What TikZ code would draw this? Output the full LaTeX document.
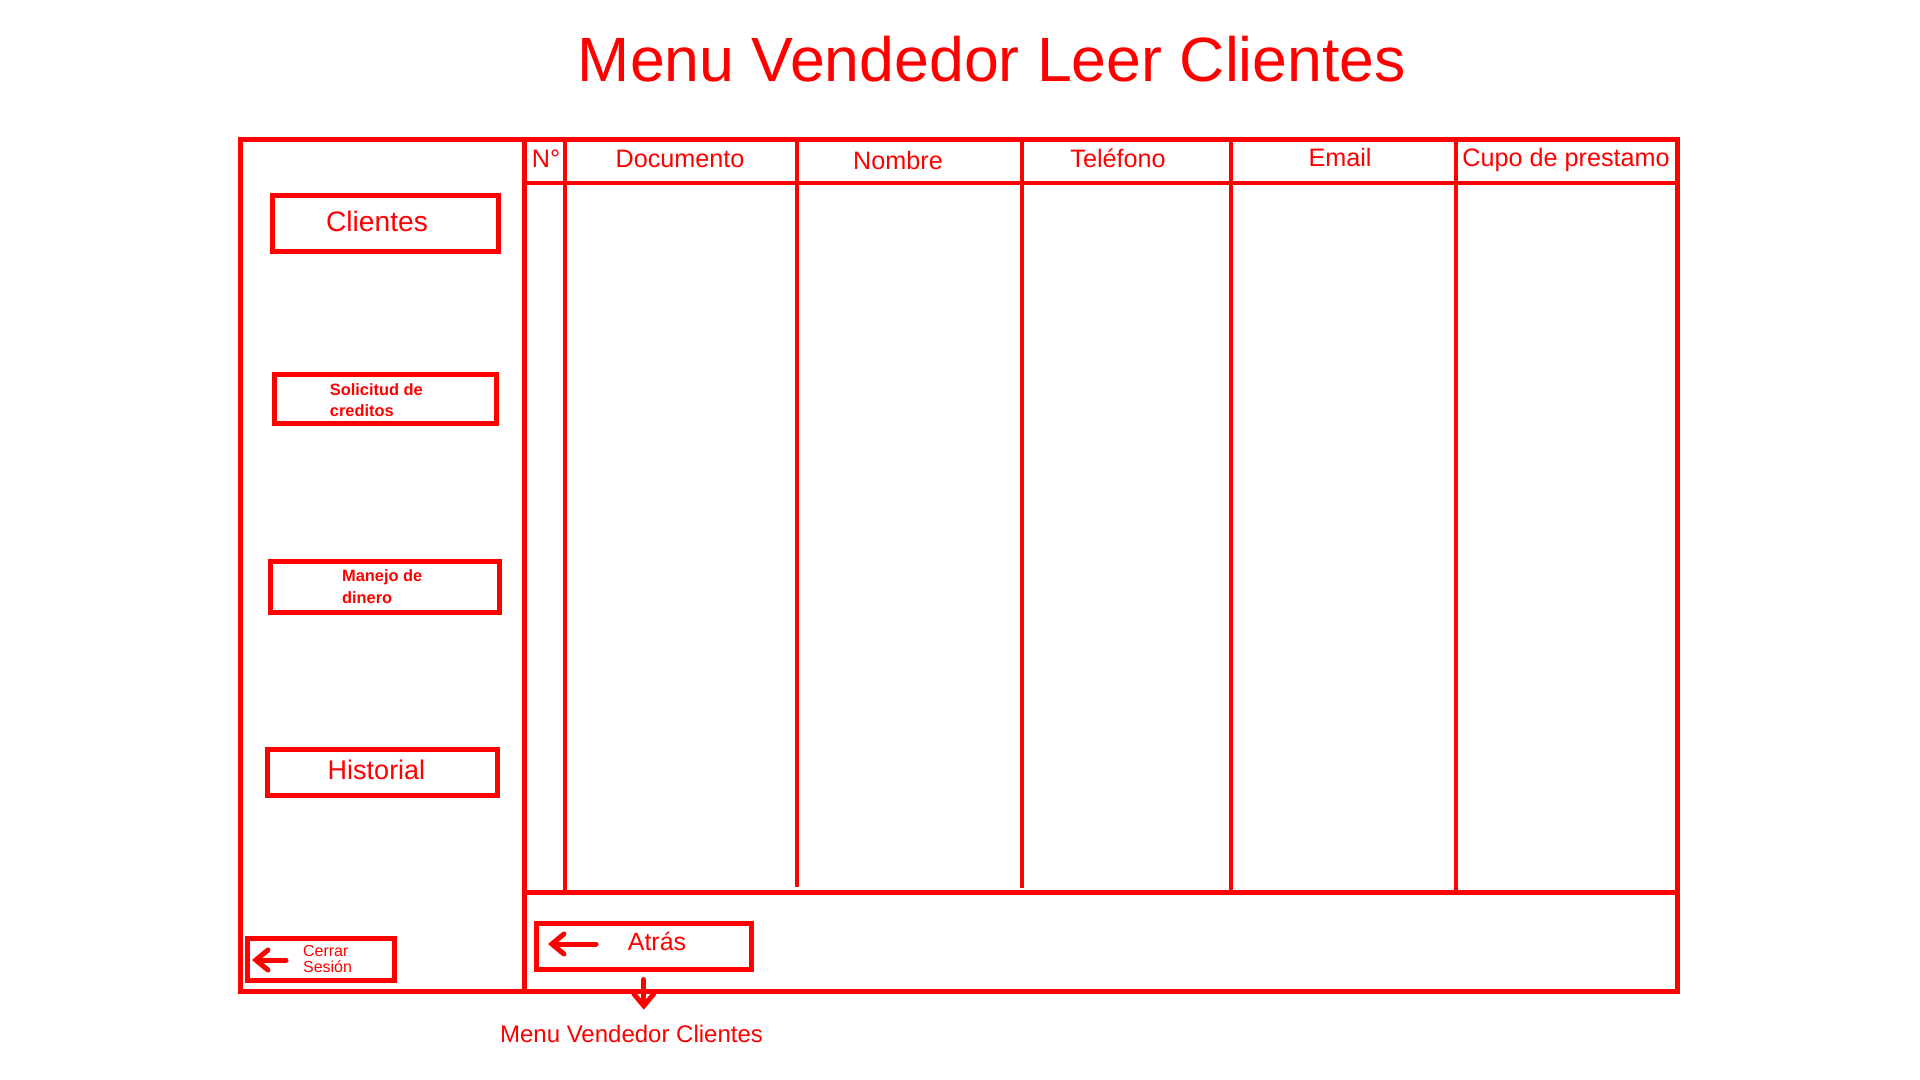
\documentclass[tikz,border=0pt]{standalone}
\usepackage{fontspec}
\setmainfont{Liberation Sans}
\usetikzlibrary{arrows.meta}
\definecolor{rojomenu}{RGB}{255,0,0}
\tikzset{
  marco/.style={draw=rojomenu, line width=2.5pt},
  rejilla/.style={draw=rojomenu, line width=2pt},
  boton/.style={draw=rojomenu, line width=2.5pt, inner sep=0pt},
  texto/.style={text=rojomenu, inner sep=0pt},
  encabezado/.style={texto, font=\fontsize{12.6}{15}\selectfont},
  chico/.style={texto, align=left, font=\bfseries\fontsize{8.2}{10.85}\selectfont},
  flecha/.style={draw=rojomenu, line width=2.5pt, line cap=round, -{Straight Barb[length=6pt, width=10pt, line cap=round]}}
}

\begin{document}
\begin{tikzpicture}[x=0.5pt, y=-0.5pt]
\useasboundingbox (0,0) rectangle (1920,1080);
\node[texto, font=\fontsize{31.3}{37}\selectfont, anchor=base] (titulo) at (992,82) {Menu Vendedor Leer Clientes};
% marco y tabla
\draw[marco] (240.7,140) rectangle (1677.5,991);
\draw[marco] (524,140) -- (524,991);
\draw[rejilla] (524,183) -- (1677.5,183);
\draw[marco] (524,892) -- (1677.5,892);
\foreach \x/\yb in {565/892, 797/887, 1022/888, 1231/892, 1456/890}
  \draw[rejilla] (\x,140) -- (\x,\yb);
% encabezados
\node[encabezado, anchor=base west] (num) at (531.5,168) {N°};
\node[encabezado, anchor=base] (documento) at (680,168) {Documento};
\node[encabezado, anchor=base] (nombre) at (898,170) {Nombre};
\node[encabezado, anchor=base] (telefono) at (1118,168) {Teléfono};
\node[encabezado, anchor=base] (email) at (1340,167) {Email};
\node[encabezado, anchor=base] (cupo) at (1566,167) {Cupo de prestamo};
% botones del menu
\node[boton, minimum width=113pt, minimum height=28pt] (clientes) at (385,224) {};
\node[texto, font=\fontsize{14.1}{17}\selectfont, anchor=base] (clientesTxt) at (377,231.7) {Clientes};
\node[boton, minimum width=111pt, minimum height=24.5pt] (solicitud) at (385,399.3) {};
\node[chico, anchor=base west] (solicitudTxt) at (329.5,416.7) {Solicitud de\\creditos};
\node[boton, minimum width=114.5pt, minimum height=25.5pt] (manejo) at (385,587) {};
\node[chico, anchor=base west] (manejoTxt) at (341.7,603) {Manejo de\\dinero};
\node[boton, minimum width=115pt, minimum height=23pt] (historial) at (382.5,772.5) {};
\node[texto, font=\fontsize{13.5}{16}\selectfont, anchor=base] (historialTxt) at (376.5,779) {Historial};
\node[boton, minimum width=73.5pt, minimum height=21pt] (cerrar) at (321,959.5) {};
\node[texto, align=left, font=\fontsize{8}{7.8}\selectfont, anchor=base west] (cerrarTxt) at (302.7,972) {Cerrar\\Sesión};
\node[boton, minimum width=107.25pt, minimum height=23pt] (atras) at (643.8,946.5) {};
\node[texto, font=\fontsize{12.5}{15}\selectfont, anchor=base] (atrasTxt) at (657,950) {Atrás};
\node[texto, font=\fontsize{12}{14}\selectfont, anchor=base] (menucli) at (631.5,1042) {Menu Vendedor Clientes};
% flechas
\coordinate (cerrarCola) at (286,960);
\coordinate (cerrarPunta) at (252,960);
\draw[flecha] (cerrarCola) -- (cerrarPunta);
\coordinate (atrasCola) at (596,944);
\coordinate (atrasPunta) at (548,944);
\draw[flecha] (atrasCola) -- (atrasPunta);
\draw[flecha, shorten <=3.75pt, shorten >=7.25pt] (atras.south) -- (atras.south |- menucli.north);
\end{tikzpicture}
\end{document}
